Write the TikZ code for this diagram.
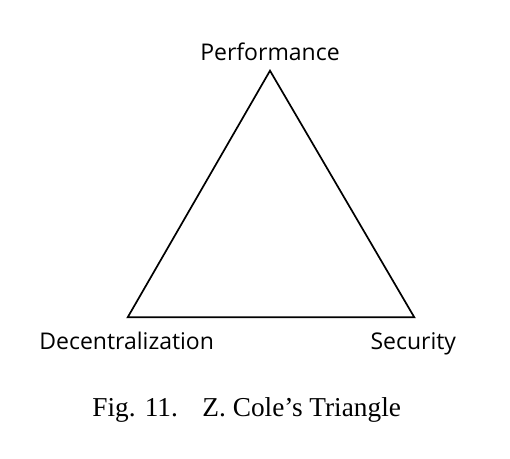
\documentclass[tikz,border=0pt]{standalone}
\usepackage{fontspec}
\setmainfont{Liberation Serif}
\newfontfamily\labelfont{Open Sans}
\begin{document}
\begin{tikzpicture}[x=1pt,y=-1pt,
  vlabel/.style={font=\labelfont\fontsize{23}{27}\selectfont, inner sep=0pt, anchor=base},
  captext/.style={font=\fontsize{27.3}{32}\selectfont, inner sep=0pt, anchor=base}]
\useasboundingbox (0,0) rectangle (510,458);
\coordinate (P) at (270,70.7);
\coordinate (D) at (127.7,317.3);
\coordinate (S) at (414.3,317.3);
\draw[line width=1.7pt, line join=miter] (P) -- (D) -- (S) -- cycle;
\node[vlabel] (perf) at (270,60.7) {Performance};
\node[vlabel] (dec) at (126.7,349.3) {Decentralization};
\node[vlabel] (sec) at (413.3,349.3) {Security};
\node[captext] (cap) at (246.7,416.7) {Fig. 11.\hspace{0.9em}Z. Cole’s Triangle};
\end{tikzpicture}
\end{document}
